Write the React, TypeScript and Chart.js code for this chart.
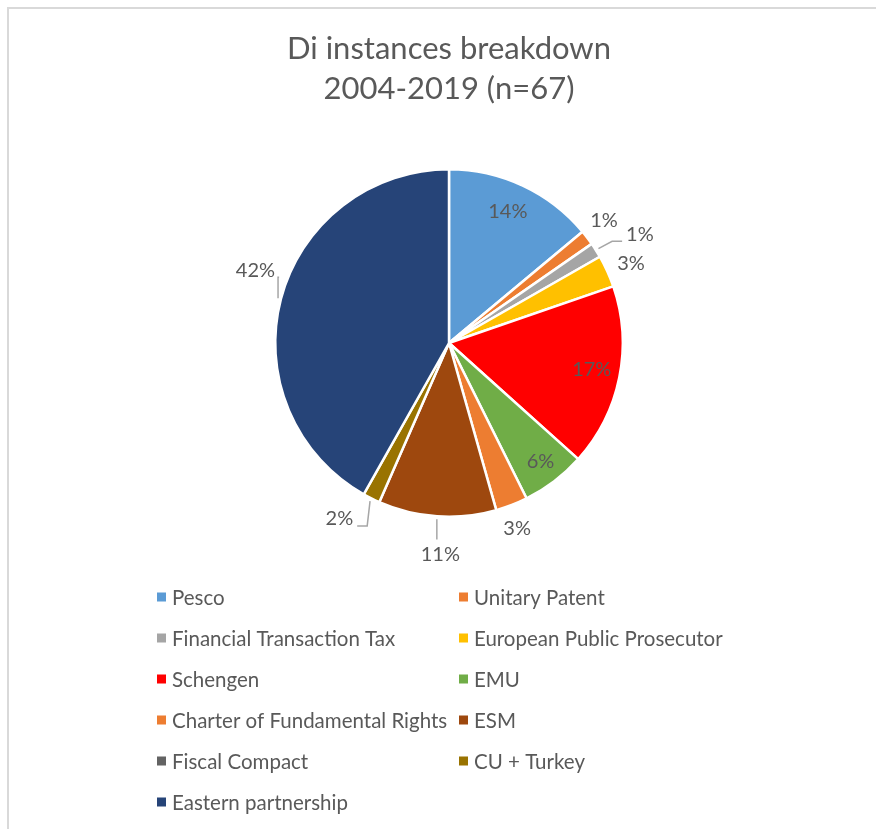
import React, { useEffect, useRef } from "react";
import { Chart, registerables } from "chart.js";

Chart.register(...registerables);

// ---- data ----
const categories = [
  "Pesco",
  "Unitary Patent",
  "Financial Transaction Tax",
  "European Public Prosecutor",
  "Schengen",
  "EMU",
  "Charter of Fundamental Rights",
  "ESM",
  "Fiscal Compact",
  "CU + Turkey",
  "Eastern partnership",
];
const shares = [14, 1.4, 1.4, 3, 17, 6, 3, 11, 0, 1.6, 42];
const sliceColors = [
  "#5B9BD5",
  "#ED7D31",
  "#A5A5A5",
  "#FFC000",
  "#FF0000",
  "#70AD47",
  "#ED7D31",
  "#9E480E",
  "#636363",
  "#997300",
  "#264478",
];
const titleLines = ["Di instances breakdown", "2004-2019 (n=67)"];

// ---- label placement (style): inside => fraction of radius; outside => px beyond radius, angle nudge in degrees ----
type Place = { inside?: boolean; r: number; a?: number; leader?: boolean } | null;
const labelPlacement: Place[] = [
  { inside: true, r: 0.83, a: -1 },
  { r: 24, a: -1.1 },
  { r: 46, a: 2.6, leader: true },
  { r: 25, a: 0.7 },
  { inside: true, r: 0.836, a: -0.8 },
  { inside: true, r: 0.86, a: -0.5 },
  { r: 24, a: 1 },
  { r: 38, a: -1.6, leader: true },
  null,
  { r: 33.5, a: 5.4, leader: true },
  { r: 33, a: 5.9, leader: true },
];

const TEXT = "#595959";
const FONT = "Lato, 'Open Sans', sans-serif";

const decorPlugin = {
  id: "decor",
  beforeDraw(chart: any) {
    const ctx = chart.ctx;
    ctx.save();
    ctx.fillStyle = "#D9D9D9";
    ctx.fillRect(7, 7, chart.width - 7, 2);
    ctx.fillRect(7, 7, 2, chart.height - 7);
    ctx.restore();
  },
  afterDatasetsDraw(chart: any) {
    const ctx = chart.ctx;
    const meta = chart.getDatasetMeta(0);
    const data = chart.data.datasets[0].data as number[];
    const total = data.reduce((s, v) => s + v, 0);
    ctx.save();
    const cx = meta.data[0].x;
    const cy = meta.data[0].y;

    // title
    ctx.fillStyle = TEXT;
    ctx.font = `31px ${FONT}`;
    ctx.textAlign = "center";
    ctx.textBaseline = "alphabetic";
    ctx.fillText(titleLines[0], cx, 59);
    ctx.fillText(titleLines[1], cx, 99);

    // data labels
    ctx.font = `20px ${FONT}`;
    ctx.textBaseline = "middle";
    meta.data.forEach((arc: any, i: number) => {
      const p = labelPlacement[i];
      if (!p || !data[i]) return;
      const R = arc.outerRadius;
      const mid = (arc.startAngle + arc.endAngle) / 2;
      const ang = mid + ((p.a || 0) * Math.PI) / 180;
      const dist = p.inside ? R * p.r : R + p.r;
      const lx = cx + Math.cos(ang) * dist;
      const ly = cy + Math.sin(ang) * dist;
      const txt = Math.round((data[i] / total) * 100) + "%";
      const w = ctx.measureText(txt).width;
      const h = 14;
      if (p.leader) {
        const px = cx + Math.cos(mid) * (R + 3);
        const py = cy + Math.sin(mid) * (R + 3);
        ctx.strokeStyle = "#A6A6A6";
        ctx.lineWidth = 1.5;
        ctx.beginPath();
        ctx.moveTo(px, py);
        if (px > lx - w / 2 - 2 && px < lx + w / 2 + 2) {
          ctx.lineTo(px, ly - h / 2 - 8);
        } else if (px < lx) {
          const ex = lx - w / 2 - 4;
          const ey = ly + h / 2;
          ctx.lineTo(Math.max(px, ex - 10), ey);
          ctx.lineTo(ex, ey);
        } else {
          const ex = lx + w / 2 + 4;
          const ey = ly + h / 2;
          ctx.lineTo(Math.min(px, ex + 10), ey);
          ctx.lineTo(ex, ey);
        }
        ctx.stroke();
      }
      ctx.fillStyle = TEXT;
      ctx.fillText(txt, lx, ly);
    });

    // legend (two columns)
    ctx.font = `20.5px ${FONT}`;
    ctx.textAlign = "left";
    ctx.textBaseline = "middle";
    const colX = [157, 459];
    const top = 597;
    const rowGap = 41;
    chart.data.labels.forEach((lab: string, i: number) => {
      const col = i % 2;
      const row = Math.floor(i / 2);
      const x = colX[col];
      const y = top + row * rowGap;
      ctx.fillStyle = (chart.data.datasets[0].backgroundColor as string[])[i];
      ctx.fillRect(x, y - 4.5, 9, 9);
      ctx.fillStyle = TEXT;
      ctx.fillText(lab, x + 15, y + 1);
    });
    ctx.restore();
  },
};

export default function App() {
  const ref = useRef<HTMLCanvasElement | null>(null);
  useEffect(() => {
    if (!ref.current) return;
    const chart = new Chart(ref.current, {
      type: "pie",
      data: {
        labels: categories,
        datasets: [
          {
            data: shares,
            backgroundColor: sliceColors,
            borderColor: "#FFFFFF",
            borderWidth: 2.5,
          },
        ],
      },
      options: {
        animation: false,
        responsive: false,
        events: [],
        layout: { padding: { left: 274, right: 252, top: 168, bottom: 311 } },
        plugins: {
          legend: { display: false },
          title: { display: false },
          tooltip: { enabled: false },
        },
      },
      plugins: [decorPlugin],
    });
    return () => chart.destroy();
  }, []);
  return (
    <div style={{ position: "absolute", left: 0, top: 0, width: 876, height: 829, background: "#fff" }}>
      <canvas ref={ref} width={876} height={829} style={{ display: "block" }} />
    </div>
  );
}
